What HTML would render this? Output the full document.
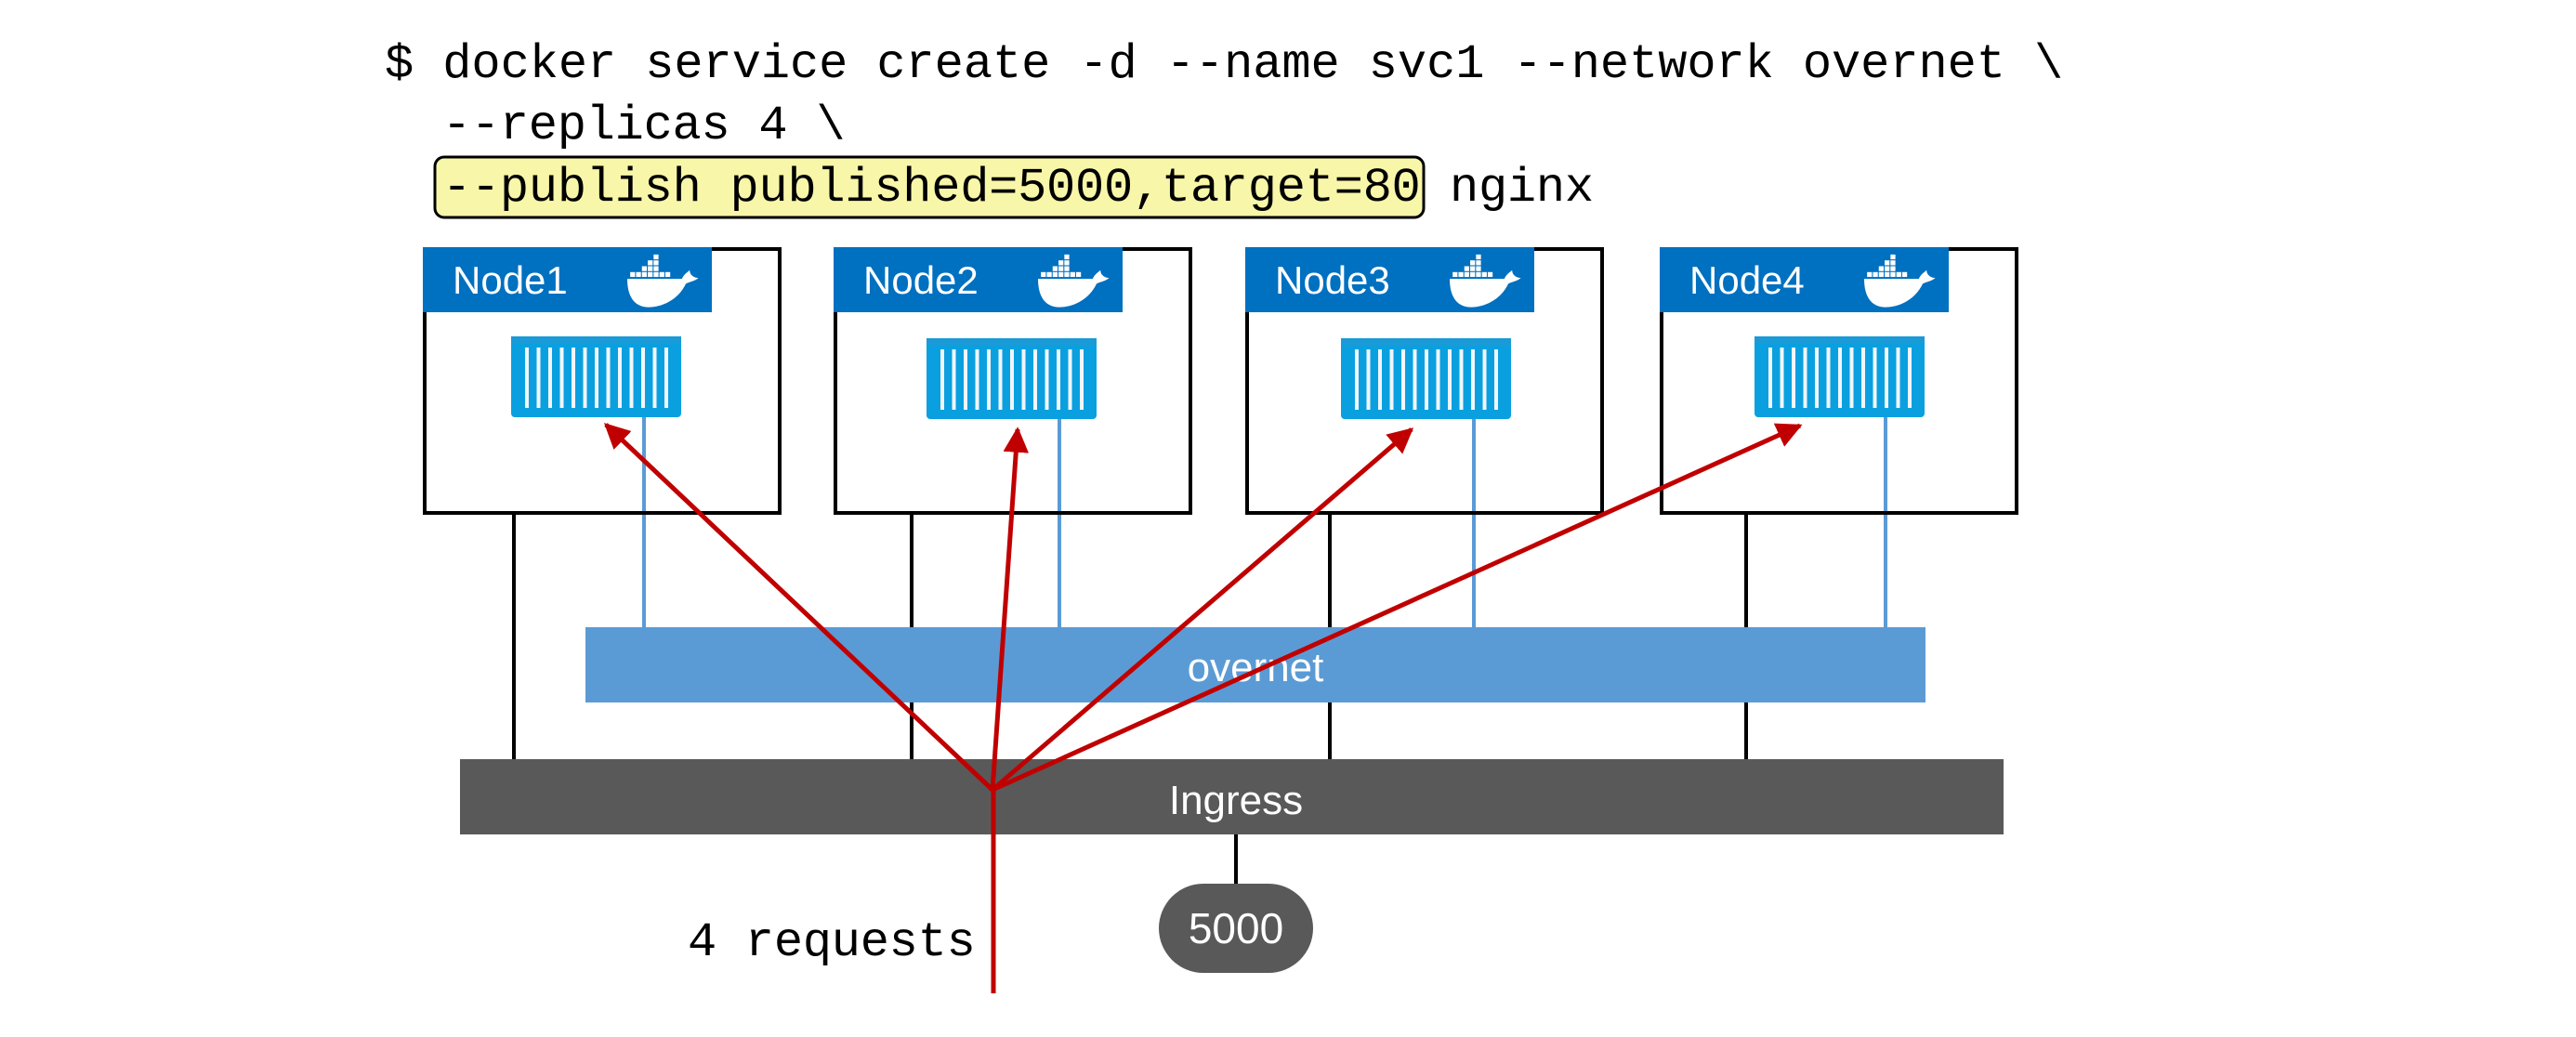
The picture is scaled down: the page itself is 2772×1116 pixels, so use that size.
<!DOCTYPE html>
<html><head><meta charset="utf-8"><style>
html,body{margin:0;padding:0;background:#fff;}
svg{display:block;}
.mono{font-family:"Liberation Mono","DejaVu Sans Mono",monospace;font-size:52px;fill:#000;letter-spacing:-0.25px;}
.sans{font-family:"Liberation Sans","DejaVu Sans",sans-serif;fill:#fff;}
</style></head><body>
<svg width="2772" height="1116" viewBox="0 0 2772 1116" xmlns="http://www.w3.org/2000/svg">
<defs>
<g id="cont">
  <rect x="0" y="0" width="183" height="87" rx="4" fill="#0aa0e0"/>
  <rect x="0" y="0" width="183" height="8" fill="#1a9ad6"/>
  <g fill="#f0f6fb">
    <rect x="15" y="12" width="4" height="65"/><rect x="27.5" y="12" width="4" height="65"/><rect x="40" y="12" width="4" height="65"/><rect x="52.5" y="12" width="4" height="65"/><rect x="65" y="12" width="4" height="65"/><rect x="77.5" y="12" width="4" height="65"/><rect x="90" y="12" width="4" height="65"/><rect x="102.5" y="12" width="4" height="65"/><rect x="115" y="12" width="4" height="65"/><rect x="127.5" y="12" width="4" height="65"/><rect x="140" y="12" width="4" height="65"/><rect x="152.5" y="12" width="4" height="65"/><rect x="165" y="12" width="4" height="65"/>
  </g>
</g>
<g id="whale" fill="#fff">
  <rect x="15" y="10" width="5" height="5"/><rect x="21" y="10" width="5" height="5"/><rect x="27" y="10" width="5" height="5"/>
  <rect x="21" y="4" width="5" height="5"/><rect x="27" y="4" width="5" height="5"/><rect x="27" y="-2" width="5" height="5"/>
  <rect x="3" y="16" width="5" height="5"/><rect x="9" y="16" width="5" height="5"/><rect x="15" y="16" width="5" height="5"/><rect x="21" y="16" width="5" height="5"/><rect x="27" y="16" width="5" height="5"/><rect x="33" y="16" width="5" height="5"/><rect x="39" y="16" width="5" height="5"/>
  <path d="M0 23 L56 23 C58 18 62 16 64 14 C64 20 70 22 73 22 C68 26 63 26 60 28 C52 45 35 52 22 52 C8 52 0 42 0 23 Z"/>
</g>
<marker id="ah" viewBox="0 0 10 10" refX="9" refY="5" markerWidth="5.5" markerHeight="5.5" orient="auto" markerUnits="strokeWidth">
  <path d="M0 0 L10 5 L0 10 Z" fill="#c00000"/>
</marker>
</defs>

<!-- command text -->
<text class="mono" x="414" y="83" xml:space="preserve" textLength="1806" lengthAdjust="spacing">$ docker service create -d --name svc1 --network overnet \</text>
<text class="mono" x="414" y="149" xml:space="preserve">  --replicas 4 \</text>
<rect x="468" y="169" width="1064" height="65" rx="10" fill="#f8f6a8" stroke="#000" stroke-width="3"/>
<text class="mono" x="476" y="216" xml:space="preserve">--publish published=5000,target=80</text>
<text class="mono" x="1560" y="216">nginx</text>

<!-- drop lines -->
<g stroke="#000" stroke-width="4">
  <line x1="553" y1="552" x2="553" y2="817"/><line x1="981" y1="552" x2="981" y2="817"/>
  <line x1="1431" y1="552" x2="1431" y2="817"/><line x1="1879" y1="552" x2="1879" y2="817"/>
  <line x1="1330" y1="898" x2="1330" y2="951"/>
</g>
<g stroke="#5b9bd5" stroke-width="4">
  <line x1="693" y1="449" x2="693" y2="675"/><line x1="1140" y1="449" x2="1140" y2="675"/>
  <line x1="1586" y1="449" x2="1586" y2="675"/><line x1="2029" y1="449" x2="2029" y2="675"/>
</g>

<!-- nodes -->
<g>
  <rect x="457" y="268" width="382" height="284" fill="none" stroke="#000" stroke-width="4"/>
  <rect x="455" y="266" width="311" height="70" fill="#0070c0"/>
  <text class="sans" x="487" y="316" font-size="42">Node1</text>
  <use href="#whale" transform="translate(675,276) scale(1.05)"/>
  <use href="#cont" x="550" y="362"/>
</g>
<g>
  <rect x="899" y="268" width="382" height="284" fill="none" stroke="#000" stroke-width="4"/>
  <rect x="897" y="266" width="311" height="70" fill="#0070c0"/>
  <text class="sans" x="929" y="316" font-size="42">Node2</text>
  <use href="#whale" transform="translate(1117,276) scale(1.05)"/>
  <use href="#cont" x="997" y="364"/>
</g>
<g>
  <rect x="1342" y="268" width="382" height="284" fill="none" stroke="#000" stroke-width="4"/>
  <rect x="1340" y="266" width="311" height="70" fill="#0070c0"/>
  <text class="sans" x="1372" y="316" font-size="42">Node3</text>
  <use href="#whale" transform="translate(1560,276) scale(1.05)"/>
  <use href="#cont" x="1443" y="364"/>
</g>
<g>
  <rect x="1788" y="268" width="382" height="284" fill="none" stroke="#000" stroke-width="4"/>
  <rect x="1786" y="266" width="311" height="70" fill="#0070c0"/>
  <text class="sans" x="1818" y="316" font-size="42">Node4</text>
  <use href="#whale" transform="translate(2006,276) scale(1.05)"/>
  <use href="#cont" x="1888" y="362"/>
</g>

<!-- overnet / ingress -->
<rect x="630" y="675" width="1442" height="81" fill="#5b9bd5"/>
<text class="sans" x="1351" y="733" font-size="44" text-anchor="middle">overnet</text>
<rect x="495" y="817" width="1661" height="81" fill="#595959"/>
<text class="sans" x="1330" y="876" font-size="44" text-anchor="middle">Ingress</text>
<rect x="1247" y="951" width="166" height="96" rx="48" fill="#595959"/>
<text class="sans" x="1330" y="1015" font-size="46" text-anchor="middle">5000</text>

<!-- requests -->
<text class="mono" x="740" y="1028">4 requests</text>
<g stroke="#c00000" stroke-width="5" fill="none">
  <line x1="1069" y1="1069" x2="1069" y2="850"/>
  <line x1="1068" y1="850" x2="652" y2="457" marker-end="url(#ah)"/>
  <line x1="1068" y1="850" x2="1095" y2="462" marker-end="url(#ah)"/>
  <line x1="1068" y1="850" x2="1519" y2="462" marker-end="url(#ah)"/>
  <line x1="1068" y1="850" x2="1937" y2="458" marker-end="url(#ah)"/>
</g>
</svg>
</body></html>
